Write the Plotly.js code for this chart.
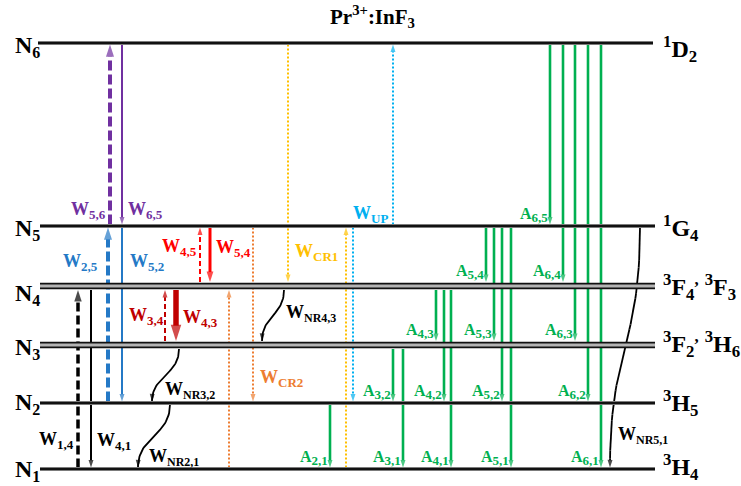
<!DOCTYPE html>
<html>
<head>
<meta charset="utf-8">
<script src="https://cdn.plot.ly/plotly-3.0.1.min.js"></script>
<style>
  html, body { margin: 0; padding: 0; background: #fff; }
  #chart { width: 741px; height: 486px; }
</style>
</head>
<body>
<div id="chart"></div>
<script>
// ---- Pr3+ : InF3 energy levels (schematic heights, arbitrary units) ----
const levelIds    = [1, 2, 3, 4, 5, 6];
const levelTerms  = [
  '<sup>3</sup>H<sub>4</sub>',
  '<sup>3</sup>H<sub>5</sub>',
  '<sup>3</sup>F<sub>2</sub><sup>,</sup> <sup>3</sup>H<sub>6</sub>',
  '<sup>3</sup>F<sub>4</sub><sup>,</sup> <sup>3</sup>F<sub>3</sub>',
  '<sup>1</sup>G<sub>4</sub>',
  '<sup>1</sup>D<sub>2</sub>'
];
const levelHeight = [17, 83, 141, 200, 260, 443];
const levelPaired = [false, false, true, true, false, false];

// ---- spontaneous emission channels A(i,j): upper level i -> lower level j ----
const radFrom = [6, 6, 6, 6, 6, 5, 5, 5, 5, 4, 4, 4, 3, 3, 2];
const radTo   = [5, 4, 3, 2, 1, 4, 3, 2, 1, 3, 2, 1, 2, 1, 1];

// ---- pump / stimulated / cross-relaxation / upconversion rates W ----
const procName = ['5,6', '6,5', '2,5', '5,2', '1,4', '4,1', '4,5', '5,4', '3,4', '4,3',
                  'CR1', 'CR1', 'CR2', 'CR2', 'UP', 'UP'];
const procFrom = [5, 6, 2, 5, 1, 4, 4, 5, 3, 4, 6, 1, 5, 1, 5, 5];
const procTo   = [6, 5, 5, 2, 4, 1, 5, 4, 4, 3, 4, 5, 2, 4, 6, 2];

// ---- non-radiative multiphonon relaxation W_NR(i,j) ----
const nrFrom = [4, 3, 2, 5];
const nrTo   = [3, 2, 1, 1];

// ================= drawing =================
const FONT = '"Liberation Serif", "Times New Roman", serif';
const C = {
  purple: '#7030A0', blue: '#2479C6', red: '#FF0000', dark: '#C00000',
  orange: '#ED7D31', gold: '#FFC000', sky: '#00B0F0', green: '#00B050', black: '#000000'
};

// column of each green emission arrow
const radX = [550, 563, 575, 588, 601, 486, 494, 502, 511, 436, 444, 451, 393, 403, 330];

// column, stroke and label placement of each W arrow
const procStyle = [
  { x: 110, c: C.purple, w: 4,   dash: '10px,4px', head: 13, lx: 107, ly: 276, la: 'right' },
  { x: 122, c: C.purple, w: 2,   dash: 'solid',    head: 8,  lx: 127, ly: 276, la: 'left' },
  { x: 108, c: C.blue,   w: 4,   dash: '10px,4px', head: 13, lx: 99,  ly: 224, la: 'right' },
  { x: 122, c: C.blue,   w: 2,   dash: 'solid',    head: 8,  lx: 129, ly: 224, la: 'left' },
  { x: 78,  c: C.black,  w: 3.5, dash: '9px,4px',  head: 12, lx: 75,  ly: 46,  la: 'right' },
  { x: 91,  c: C.black,  w: 2,   dash: 'solid',    head: 8,  lx: 96,  ly: 45,  la: 'left' },
  { x: 200, c: C.red,    w: 2,   dash: '5px,3px',  head: 8,  lx: 198, ly: 239, la: 'right' },
  { x: 210, c: C.red,    w: 3,   dash: 'solid',    head: 11, lx: 215, ly: 238, la: 'left' },
  { x: 165, c: C.dark,   w: 2,   dash: '5px,3px',  head: 8,  lx: 165, ly: 170, la: 'right' },
  { x: 176, c: C.dark,   w: 5.5, dash: 'solid',    head: 17, lx: 182, ly: 168, la: 'left' },
  { x: 288, c: C.gold,   w: 2,   dash: '2px,2px',  head: 8,  lx: 294, ly: 234, la: 'left' },
  { x: 346, c: C.gold,   w: 2,   dash: '2px,2px',  head: 8 },
  { x: 253, c: C.orange, w: 2,   dash: '2px,2px',  head: 8,  lx: 259, ly: 108, la: 'left' },
  { x: 229, c: C.orange, w: 2,   dash: '2px,2px',  head: 8 },
  { x: 393, c: C.sky,    w: 2,   dash: '2px,2px',  head: 8,  lx: 352, ly: 272, la: 'left' },
  { x: 353, c: C.sky,    w: 2,   dash: '2px,2px',  head: 8 }
];

// start/end columns of the wavy relaxation arrows and their labels
const nrStyle = [
  { x0: 284, x1: 262, lx: 285, ly: 173 },
  { x0: 179, x1: 152, lx: 164, ly: 96 },
  { x0: 170, x1: 138, lx: 148, ly: 29 },
  { x0: 640, x1: 610, lx: 617, ly: 51 }
];

// label nudges relative to the level line
const leftLabelDy  = [-1, 0, -3, -8, -3, -3];
const rightLabelDy = [2, 0, 1, -1, -2, -6];

const lvl = i => levelHeight[i - 1];
const half = i => (levelPaired[i - 1] ? 4 : 1.5);
const upperEdge = i => lvl(i) + half(i);
const lowerEdge = i => lvl(i) - half(i);
// arrow runs from the edge of the start level to the facing edge of the end level
const span = (a, b) => (a < b ? [upperEdge(a), lowerEdge(b)] : [lowerEdge(a), upperEdge(b)]);

const traces = [];
const annotations = [];

function arrowTrace(xs, ys, color, width, dash, head) {
  const sizes = xs.map((_, k) => (k === xs.length - 1 ? head : 0));
  traces.push({
    type: 'scatter', mode: 'lines+markers', x: xs, y: ys,
    cliponaxis: false, hoverinfo: 'skip',
    line: { color: color, width: width, dash: dash },
    marker: { symbol: 'arrow', angleref: 'previous', size: sizes, color: color, line: { width: 0 } }
  });
}

function lineTrace(x0, x1, y, color, width) {
  traces.push({
    type: 'scatter', mode: 'lines', x: [x0, x1], y: [y, y],
    cliponaxis: false, hoverinfo: 'skip',
    line: { color: color, width: width }
  });
}

function label(text, x, y, xanchor, color, size) {
  annotations.push({
    text: '<b>' + text + '</b>', x: x, y: y, xref: 'x', yref: 'y',
    xanchor: xanchor, yanchor: 'middle', showarrow: false, borderpad: 0,
    font: { family: FONT, size: size, color: color }
  });
}

const sub = (t, px) => '<sub><span style="font-size:' + px + 'px">' + t + '</span></sub>';

// green spontaneous-emission arrows
radFrom.forEach((f, k) => {
  const t = radTo[k], x = radX[k];
  const [y0, y1] = span(f, t);
  arrowTrace([x, x], [y0, y1], C.green, 2.6, 'solid', 8);
  label('A' + sub(f + ',' + t, 13), x - 1, upperEdge(t) + 10, 'right', C.green, 16);
});

// W arrows
procName.forEach((n, k) => {
  const s = procStyle[k];
  const [y0, y1] = span(procFrom[k], procTo[k]);
  arrowTrace([s.x, s.x], [y0, y1], s.c, s.w, s.dash, s.head);
  if (s.lx !== undefined) label('W' + sub(n, 13), s.lx, s.ly, s.la, s.c, 18);
});

// wavy non-radiative arrows (cubic S-curve between the two levels)
nrFrom.forEach((f, k) => {
  const t = nrTo[k], s = nrStyle[k];
  const [y0, y1] = span(f, t);
  const ym = (y0 + y1) / 2;
  const xs = [], ys = [];
  for (let i = 0; i <= 40; i++) {
    const u = i / 40;
    const a = (1 - u) ** 3, b = 3 * (1 - u) ** 2 * u, c = 3 * (1 - u) * u * u, d = u ** 3;
    xs.push((a + b) * s.x0 + (c + d) * s.x1);
    ys.push(a * y0 + (b + c) * ym + d * y1);
  }
  arrowTrace(xs, ys, C.black, 1.8, 'solid', 8);
  label('W' + sub('NR' + f + ',' + t, 12), s.lx, s.ly, 'left', C.black, 18);
});

// level lines (single or paired manifolds) and their names
levelIds.forEach((id, k) => {
  const y = levelHeight[k];
  const x0 = id === 6 ? 38 : 40, x1 = id === 6 ? 653 : 655;
  if (levelPaired[k]) {
    lineTrace(x0, x1, y, '#b4b4b4', 5.5);
    lineTrace(x0, x1, y + 2.4, '#111111', 1.7);
    lineTrace(x0, x1, y - 2.4, '#111111', 1.7);
  } else {
    lineTrace(x0, x1, y, '#a0a0a0', 3.8);
    lineTrace(x0, x1, y, '#111111', 2.3);
  }
  label('N' + sub(id, 16), 14, y + leftLabelDy[k], 'left', '#000', 24);
  label(levelTerms[k], 662, y + rightLabelDy[k], 'left', '#000', 24);
});

// title
label('Pr<sup>3+</sup>:InF<sub>3</sub>', 372, 470, 'center', '#000', 21);

const layout = {
  width: 741, height: 486,
  margin: { l: 0, r: 0, t: 0, b: 0, pad: 0 },
  paper_bgcolor: '#ffffff', plot_bgcolor: '#ffffff',
  showlegend: false,
  xaxis: { range: [0, 741], visible: false, fixedrange: true },
  yaxis: { range: [0, 486], visible: false, fixedrange: true },
  annotations: annotations
};

Plotly.newPlot('chart', traces, layout, { staticPlot: true, displayModeBar: false });
</script>
</body>
</html>
